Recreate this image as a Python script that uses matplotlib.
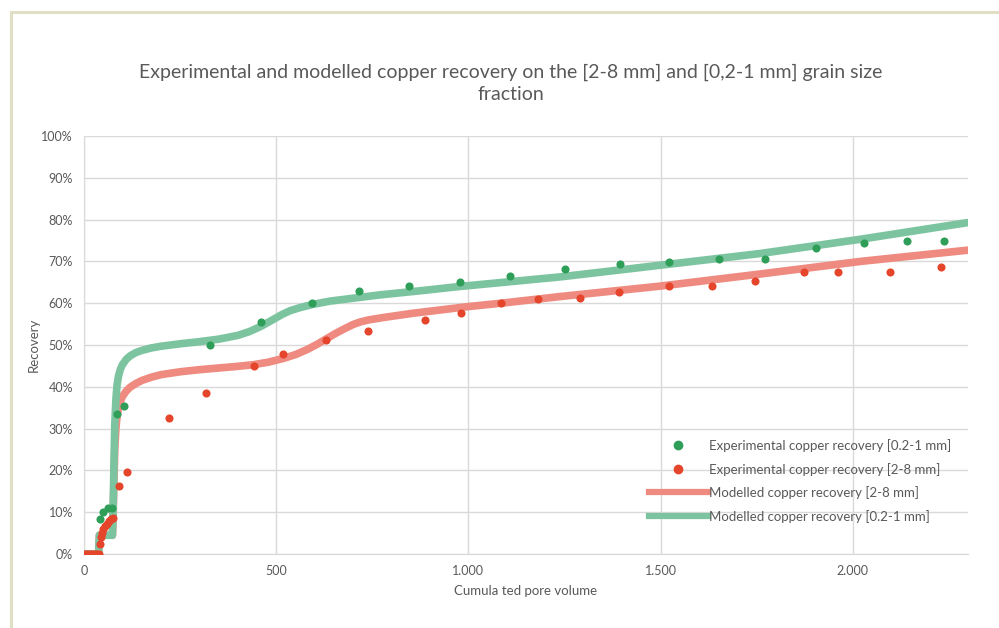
import matplotlib
matplotlib.use("Agg")
import matplotlib.pyplot as plt
from matplotlib.lines import Line2D
from matplotlib.ticker import FuncFormatter

plt.rcParams['font.family'] = ['Lato', 'DejaVu Sans']

# experimental points, [0.2-1 mm]
exp_fine_x = [42, 50, 63, 74, 85, 105, 328, 461, 594, 716, 846, 977, 1108, 1252,
              1395, 1522, 1651, 1772, 1905, 2029, 2140, 2238]
exp_fine_y = [8.3, 10.1, 10.9, 10.9, 33.6, 35.4, 50.0, 55.4, 60.0, 62.9, 64.1, 65.0,
              66.4, 68.2, 69.3, 69.9, 70.5, 70.5, 73.2, 74.3, 74.9, 75.0]

# experimental points, [2-8 mm]
exp_coarse_x = [0, 5, 10, 15, 20, 25, 30, 35, 40, 42, 44, 47, 50, 55, 60, 65, 70, 75,
                92, 111, 222, 317, 441, 519, 629, 738, 887, 980, 1085, 1181, 1291,
                1392, 1522, 1633, 1746, 1874, 1961, 2097, 2229]
exp_coarse_y = [0, 0, 0, 0, 0, 0, 0, 0, 0, 2.5, 4.0, 5.0, 6.0, 6.8, 7.3, 7.8, 8.3, 8.6,
                16.3, 19.7, 32.6, 38.5, 45.1, 47.8, 51.2, 53.3, 56.1, 57.6, 60.0, 61.0,
                61.3, 62.7, 64.2, 64.2, 65.4, 67.4, 67.4, 67.4, 68.6]

# model curves
mod_coarse_x = [0, 38, 40, 74, 76, 78, 80, 83, 86, 90, 95, 100, 110, 120, 135, 150, 175,
                200, 250, 300, 350, 400, 441, 480, 519, 550, 580, 605, 629, 655, 680,
                700, 718, 740, 780, 856, 1000, 1085, 1239, 1500, 1760, 2020, 2300]
mod_coarse_y = [0, 0, 4.5, 4.5, 10, 18, 25, 30, 33, 35, 36.6, 37.7, 39.0, 39.9, 40.8,
                41.5, 42.3, 42.9, 43.6, 44.1, 44.5, 44.9, 45.3, 45.9, 46.8, 47.7, 48.9,
                50.1, 51.4, 52.8, 54.0, 54.9, 55.5, 56.0, 56.6, 57.6, 59.2, 60.0, 61.6,
                64.1, 67.0, 70.0, 72.7]

mod_fine_x = [0, 38, 40, 74, 76, 78, 80, 83, 86, 90, 95, 100, 110, 120, 135, 150, 175,
              200, 250, 300, 350, 400, 430, 461, 490, 515, 536, 560, 594, 640, 700,
              770, 877, 977, 1239, 1500, 1760, 2020, 2300]
mod_fine_y = [0, 0, 4.5, 4.5, 12, 22, 31, 37, 40.5, 42.7, 44.3, 45.3, 46.6, 47.4, 48.2,
              48.7, 49.3, 49.7, 50.3, 50.8, 51.4, 52.3, 53.2, 54.5, 56.0, 57.3, 58.2,
              58.9, 59.7, 60.5, 61.2, 62.0, 63.0, 64.0, 66.3, 69.1, 71.9, 75.3, 79.3]

xticks = [0, 500, 1000, 1500, 2000]
yticks = list(range(0, 101, 10))

txt = '#595959'
grid = '#d9d9d9'

fig = plt.figure(figsize=(9.99, 6.28), dpi=100)
ax = fig.add_axes([0.0841, 0.1178, 0.8849, 0.6656])

ax.plot(mod_coarse_x, mod_coarse_y, color='#ee8a80', lw=5.5, solid_capstyle='round',
        solid_joinstyle='round', zorder=2)
ax.plot(mod_fine_x, mod_fine_y, color='#7cc49f', lw=5.5, solid_capstyle='round',
        solid_joinstyle='round', zorder=2)
ax.scatter(exp_fine_x, exp_fine_y, s=34, color='#2f9e58', zorder=3, lw=0)
ax.scatter(exp_coarse_x, exp_coarse_y, s=34, color='#e5452b', zorder=4, lw=0)

ax.set_xlim(0, 2300)
ax.set_ylim(0, 100)
ax.set_xticks(xticks)
ax.set_yticks(yticks)
ax.xaxis.set_major_formatter(FuncFormatter(lambda v, p: '{:,}'.format(int(v)).replace(',', '.')))
ax.yaxis.set_major_formatter(FuncFormatter(lambda v, p: '{}%'.format(int(v))))
ax.tick_params(length=0, colors=txt, labelsize=9, pad=8)
ax.grid(True, color=grid, lw=1)
ax.set_axisbelow(True)
for s in ['top', 'right']:
    ax.spines[s].set_visible(False)
for s in ['left', 'bottom']:
    ax.spines[s].set_color(grid)

ax.set_xlabel('Cumula ted pore volume', color=txt, fontsize=9.5, labelpad=6)
ax.set_ylabel('Recovery', color=txt, fontsize=9.5, labelpad=1)

fig.text(0.511, 0.867, 'Experimental and modelled copper recovery on the [2-8 mm] and [0,2-1 mm] grain size\nfraction',
         ha='center', va='center', color=txt, fontsize=14, linespacing=1.4)

h = [Line2D([], [], marker='o', ls='none', color='#2f9e58', ms=6),
     Line2D([], [], marker='o', ls='none', color='#e5452b', ms=6),
     Line2D([], [], color='#ee8a80', lw=4.5),
     Line2D([], [], color='#7cc49f', lw=4.5)]
labels = ['Experimental copper recovery [0.2-1 mm]',
          'Experimental copper recovery [2-8 mm]',
          'Modelled copper recovery [2-8 mm]',
          'Modelled copper recovery [0.2-1 mm]']
leg = ax.legend(h, labels, loc='lower right', bbox_to_anchor=(0.991, 0.053), frameon=False,
                fontsize=9.5, handlelength=4.5, handletextpad=0.05, labelspacing=0.8,
                borderpad=0.2)
for t in leg.get_texts():
    t.set_color(txt)

# outer frame
frame = '#e0dfc6'
fig.add_artist(Line2D([11 / 999, 1], [1 - 12 / 628, 1 - 12 / 628], color=frame, lw=2.2))
fig.add_artist(Line2D([11 / 999, 11 / 999], [0, 1 - 12 / 628], color=frame, lw=2.2))

fig.savefig('out.png', dpi=100)
